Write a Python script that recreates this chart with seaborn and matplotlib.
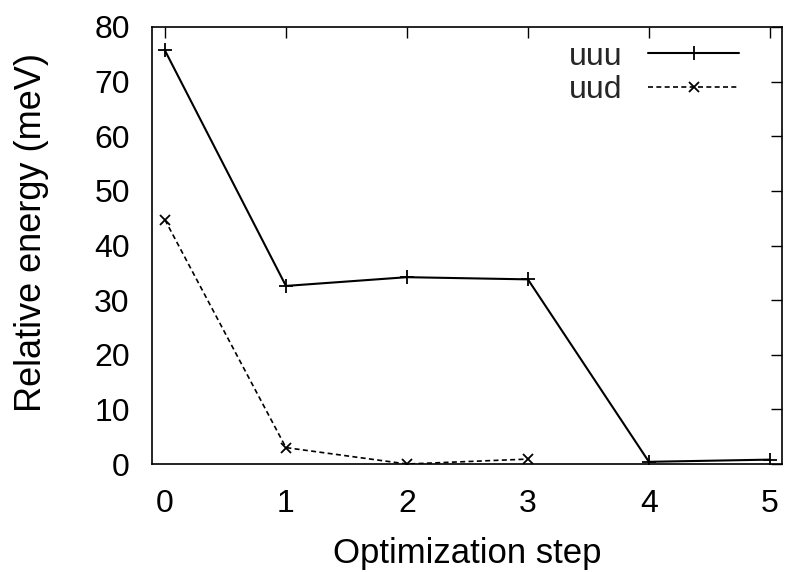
import matplotlib
matplotlib.use("Agg")
import matplotlib.pyplot as plt
import seaborn as sns
import pandas as pd

steps_uuu = [0, 1, 2, 3, 4, 5]
energy_uuu = [75.7, 32.6, 34.2, 33.8, 0.4, 0.8]
steps_uud = [0, 1, 2, 3]
energy_uud = [44.7, 3.0, 0.0, 0.9]
xticks = [0, 1, 2, 3, 4, 5]
yticks = [0, 10, 20, 30, 40, 50, 60, 70, 80]

sns.set_theme(style="white")
plt.rcParams["font.family"] = ["Liberation Sans", "DejaVu Sans"]

df_uuu = pd.DataFrame({"step": steps_uuu, "energy": energy_uuu})
df_uud = pd.DataFrame({"step": steps_uud, "energy": energy_uud})

fig = plt.figure(figsize=(7.88, 5.72), dpi=100)
ax = fig.add_axes([152/788, 1-464/572, (782-152)/788, (464-27)/572])

sns.lineplot(data=df_uuu, x="step", y="energy", ax=ax, color="black",
             linewidth=1.5, marker="+", markersize=10, markeredgewidth=1.3,
             markeredgecolor="black", label="uuu")
sns.lineplot(data=df_uud, x="step", y="energy", ax=ax, color="black",
             linewidth=1.2, linestyle=(0, (3, 2)), marker="x", markersize=7,
             markeredgewidth=1.3, markeredgecolor="black", label="uud")

ax.set_xlim(-0.107, 5.1)
ax.set_ylim(0, 80)
ax.set_xticks(xticks)
ax.set_yticks(yticks)
ax.tick_params(direction="in", length=8, width=1, top=True, right=True,
               labelsize=23, colors="black", pad=16)
ax.tick_params(axis="x", pad=18)
for lbl in ax.get_xticklabels() + ax.get_yticklabels():
    lbl.set_color("black")
for s in ax.spines.values():
    s.set_color("black")
    s.set_linewidth(1.2)

ax.set_xlabel("Optimization step", fontsize=25, color="black", labelpad=13)
ax.set_ylabel("Relative energy (meV)", fontsize=26, color="black")
ax.yaxis.set_label_coords(-0.1635, 0.529)

leg = ax.legend(loc="upper right", frameon=False, markerfirst=False,
                fontsize=23, handlelength=2.85, handletextpad=0.8,
                labelspacing=0.1, borderaxespad=0.0,
                bbox_to_anchor=(0.9525, 0.996))

fig.savefig("out.png", dpi=100)
